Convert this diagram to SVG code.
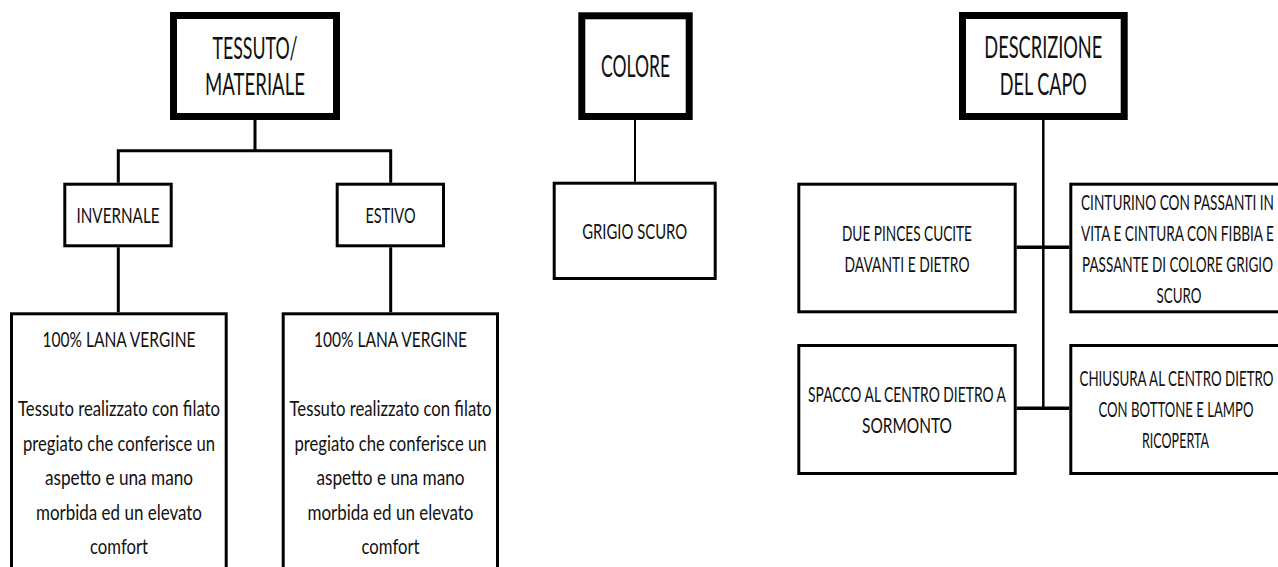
<svg xmlns="http://www.w3.org/2000/svg" width="1278" height="567" viewBox="0 0 1278 567">
<style>
.bg{fill:#fff}
.hd{fill:#fff;stroke:#000;stroke-width:7}
.bx{fill:#fff;stroke:#000;stroke-width:3}
.ln{fill:none;stroke:#000;stroke-width:3}
text{font-family:Lato,"Open Sans","Liberation Sans",sans-serif;fill:#111;text-anchor:middle}
.h{font-size:30px}
.t{font-size:21px}
</style>
<rect class="bg" x="0" y="0" width="1278" height="567"/>
<g id="connectors">
<path class="ln" d="M255 120V150.7M118.3 182.7V150.7H390.7V182.7"/>
<path class="ln" d="M118.3 247.3V312.3M390.7 247.3V312.3"/>
<path class="ln" style="stroke-width:2" d="M635 120V181.7"/>
<path class="ln" style="stroke-width:2.5" d="M1043.3 120V408.3"/>
<path class="ln" style="stroke-width:3.5" d="M1016.7 247.3H1069.3M1016.7 408.3H1069.3"/>
</g>
<g id="tessuto">
<rect class="hd" x="173.5" y="15.5" width="163" height="101"/>
<text class="h" x="255" y="59" textLength="85" lengthAdjust="spacingAndGlyphs">TESSUTO/</text>
<text class="h" x="255" y="95" textLength="100" lengthAdjust="spacingAndGlyphs">MATERIALE</text>
</g>
<g id="invernale">
<rect class="bx" x="64.8" y="184.2" width="106.4" height="61.6"/>
<text class="t" x="118" y="222.5" textLength="83" lengthAdjust="spacingAndGlyphs">INVERNALE</text>
</g>
<g id="estivo">
<rect class="bx" x="337.2" y="184.2" width="106.3" height="61.6"/>
<text class="t" x="390.5" y="222.5" textLength="50" lengthAdjust="spacingAndGlyphs">ESTIVO</text>
</g>
<g id="lana-invernale">
<rect class="bx" x="11.5" y="313.8" width="214.7" height="300"/>
<text class="t" x="119" y="346.5" textLength="153" lengthAdjust="spacingAndGlyphs">100% LANA VERGINE</text>
<text class="t" x="119" y="416" textLength="202" lengthAdjust="spacingAndGlyphs">Tessuto realizzato con filato</text>
<text class="t" x="119" y="450.5" textLength="192" lengthAdjust="spacingAndGlyphs">pregiato che conferisce un</text>
<text class="t" x="119" y="485" textLength="148" lengthAdjust="spacingAndGlyphs">aspetto e una mano</text>
<text class="t" x="119" y="519.5" textLength="166" lengthAdjust="spacingAndGlyphs">morbida ed un elevato</text>
<text class="t" x="119" y="554" textLength="58" lengthAdjust="spacingAndGlyphs">comfort</text>
</g>
<g id="lana-estivo">
<rect class="bx" x="283.2" y="313.8" width="214.3" height="300"/>
<text class="t" x="390.5" y="346.5" textLength="153" lengthAdjust="spacingAndGlyphs">100% LANA VERGINE</text>
<text class="t" x="390.5" y="416" textLength="202" lengthAdjust="spacingAndGlyphs">Tessuto realizzato con filato</text>
<text class="t" x="390.5" y="450.5" textLength="192" lengthAdjust="spacingAndGlyphs">pregiato che conferisce un</text>
<text class="t" x="390.5" y="485" textLength="148" lengthAdjust="spacingAndGlyphs">aspetto e una mano</text>
<text class="t" x="390.5" y="519.5" textLength="166" lengthAdjust="spacingAndGlyphs">morbida ed un elevato</text>
<text class="t" x="390.5" y="554" textLength="58" lengthAdjust="spacingAndGlyphs">comfort</text>
</g>
<g id="colore">
<rect class="hd" x="581.8" y="15.8" width="107.4" height="100.7"/>
<text class="h" x="635.5" y="77" textLength="69" lengthAdjust="spacingAndGlyphs">COLORE</text>
</g>
<g id="grigio">
<rect class="bx" x="554.2" y="183.2" width="161" height="95.3"/>
<text class="t" x="634.7" y="238.5" textLength="105" lengthAdjust="spacingAndGlyphs">GRIGIO SCURO</text>
</g>
<g id="descrizione">
<rect class="hd" x="962.5" y="15.5" width="161.7" height="101"/>
<text class="h" x="1043.3" y="58" textLength="118" lengthAdjust="spacingAndGlyphs">DESCRIZIONE</text>
<text class="h" x="1043.3" y="95" textLength="87" lengthAdjust="spacingAndGlyphs">DEL CAPO</text>
</g>
<g id="pinces">
<rect class="bx" x="798.8" y="184.2" width="216.4" height="127.6"/>
<text class="t" x="907" y="240.5" textLength="130" lengthAdjust="spacingAndGlyphs">DUE PINCES CUCITE</text>
<text class="t" x="907" y="271.5" textLength="125" lengthAdjust="spacingAndGlyphs">DAVANTI E DIETRO</text>
</g>
<g id="cinturino">
<rect class="bx" x="1070.8" y="184.2" width="230" height="127.6"/>
<text class="t" x="1177.5" y="209.5" textLength="193" lengthAdjust="spacingAndGlyphs">CINTURINO CON PASSANTI IN</text>
<text class="t" x="1177.5" y="240.5" textLength="193" lengthAdjust="spacingAndGlyphs">VITA E CINTURA CON FIBBIA E</text>
<text class="t" x="1177.5" y="271.5" textLength="191" lengthAdjust="spacingAndGlyphs">PASSANTE DI COLORE GRIGIO</text>
<text class="t" x="1179" y="302.5" textLength="45" lengthAdjust="spacingAndGlyphs">SCURO</text>
</g>
<g id="spacco">
<rect class="bx" x="798.8" y="345.5" width="216.4" height="128"/>
<text class="t" x="907" y="401.5" textLength="198" lengthAdjust="spacingAndGlyphs">SPACCO AL CENTRO DIETRO A</text>
<text class="t" x="907" y="432.5" textLength="90" lengthAdjust="spacingAndGlyphs">SORMONTO</text>
</g>
<g id="chiusura">
<rect class="bx" x="1070.8" y="345.5" width="230" height="128"/>
<text class="t" x="1176.5" y="386" textLength="194" lengthAdjust="spacingAndGlyphs">CHIUSURA AL CENTRO DIETRO</text>
<text class="t" x="1176" y="417" textLength="155" lengthAdjust="spacingAndGlyphs">CON BOTTONE E LAMPO</text>
<text class="t" x="1175.5" y="448" textLength="67" lengthAdjust="spacingAndGlyphs">RICOPERTA</text>
</g>
</svg>
